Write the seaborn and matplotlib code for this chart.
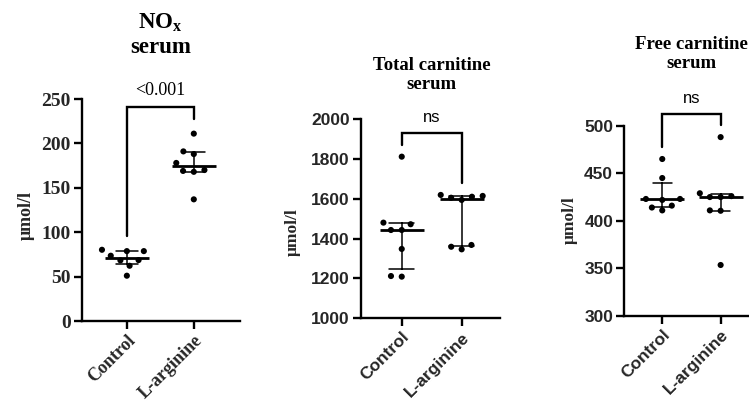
import numpy as np
import pandas as pd
import matplotlib
matplotlib.use("Agg")
import matplotlib.pyplot as plt
import seaborn as sns

# ---------------- data ----------------
groups = ["Control", "L-arginine"]

nox_control = [78.7, 78.7, 80.2, 73.5, 68.3, 68.6, 62.2, 51.0]
nox_larg = [211.0, 191.0, 188.0, 178.0, 170.0, 168.0, 169.0, 137.0]

total_control = [1811, 1472, 1480, 1443, 1443, 1348, 1209, 1212]
total_larg = [1619, 1594, 1614, 1605, 1610, 1346, 1368, 1359]

free_control = [465, 445, 423, 422, 423, 411, 416, 414]
free_larg = [488, 429, 425, 425, 426, 411, 410.6, 353.6]

titles = ["NO$_\\mathrm{x}$\nserum", "Total carnitine\nserum", "Free carnitine\nserum"]
p_labels = ["<0.001", "ns", "ns"]
y_ticks = [list(range(0, 251, 50)), list(range(1000, 2001, 200)), list(range(300, 501, 50))]
y_label = "\u03bcmol/l"

# bracket geometry (value units): left-leg bottom, top, right-leg bottom, text y
brackets = [(95.6, 240.7, 227.0, 260.0),
            (1870.0, 1931.0, 1677.0, 2008.0),
            (478.0, 512.0, 500.7, 529.0)]

# ---------------- style ----------------
sns.set_theme(style="ticks")
plt.rcParams['font.family'] = ['Liberation Serif', 'DejaVu Serif']
plt.rcParams['mathtext.fontset'] = 'custom'
plt.rcParams['mathtext.rm'] = 'Liberation Serif:bold'
plt.rcParams['mathtext.it'] = 'Liberation Serif:bold'
plt.rcParams['mathtext.bf'] = 'Liberation Serif:bold'

fig = plt.figure(figsize=(7.49, 4.05), dpi=100)

W, H = 749.0, 405.0
# axes rectangles in pixels: left, top, right, bottom
rects_px = [(82, 99, 240, 321), (361, 119, 500, 318.3), (624.3, 125.7, 758, 316)]
xlims = [(-0.67, 1.69), (-0.68, 1.64), (-0.65, 1.64)]
caps = [0.32, 0.42, 0.32]
tick_fonts = ['Liberation Serif', 'Liberation Sans', 'Liberation Sans']
tick_sizes = [14, 12.5, 12.5]
xtick_sizes = [13, 12.5, 12.5]
title_sizes = [16.5, 13.5, 13.5]
title_y = [1.29, 1.221, 1.377]
ylabel_coords = [(-0.30, 0.477), (-0.43, 0.433), (-0.346, 0.504)]
ylabel_sizes = [13, 12.5, 12.5]
p_fonts = ['Liberation Serif', 'Liberation Sans', 'Liberation Sans']
p_sizes = [13, 12, 12]

datasets = [(nox_control, nox_larg), (total_control, total_larg), (free_control, free_larg)]


def q1q3(v):
    return (np.percentile(v, 25, method='weibull'),
            np.percentile(v, 75, method='weibull'))


for i, (ctrl, larg) in enumerate(datasets):
    l, t, r, b = rects_px[i]
    ax = fig.add_axes([l / W, (H - b) / H, (r - l) / W, (b - t) / H])
    df = pd.DataFrame({
        "group": [groups[0]] * len(ctrl) + [groups[1]] * len(larg),
        "value": list(ctrl) + list(larg),
    })
    sns.pointplot(data=df, x="group", y="value", order=groups,
                  estimator="median", errorbar=q1q3, capsize=caps[i],
                  color="black", marker="_", linestyle="none",
                  markersize=32, markeredgewidth=2.0,
                  err_kws={"linewidth": 1.1}, ax=ax, zorder=3)
    sns.swarmplot(data=df, x="group", y="value", order=groups,
                  color="black", size=4.4, edgecolor="none", linewidth=3.0,
                  ax=ax, zorder=4)

    ax.set_xlim(*xlims[i])
    ax.set_ylim(y_ticks[i][0], y_ticks[i][-1])
    ax.set_yticks(y_ticks[i])
    ax.set_xlabel("")
    ax.set_ylabel(y_label, fontsize=ylabel_sizes[i], fontweight="bold",
                  family=['Liberation Serif', 'DejaVu Serif'])
    ax.yaxis.set_label_coords(*ylabel_coords[i])

    for s in ["top", "right"]:
        ax.spines[s].set_visible(False)
    for s in ["left", "bottom"]:
        ax.spines[s].set_linewidth(1.7)
        ax.spines[s].set_color("black")
    ax.tick_params(axis="both", length=6, width=1.7, color="black", direction="out")
    ax.tick_params(axis="y", labelsize=tick_sizes[i], pad=2)
    ax.tick_params(axis="x", pad=2)

    ax.set_xticks(range(len(groups)))
    ax.set_xticklabels(groups, rotation=45, ha="right", va="top",
                       rotation_mode="anchor", fontsize=xtick_sizes[i],
                       fontweight="bold", family=[tick_fonts[i], 'DejaVu Sans'])
    for lbl in ax.get_yticklabels():
        lbl.set_fontweight("bold")
        lbl.set_family([tick_fonts[i], 'DejaVu Sans'])

    # significance bracket
    lb, top, rb, ty = brackets[i]
    ax.plot([0, 0, 1, 1], [lb, top, top, rb], color="black", lw=1.7,
            clip_on=False, solid_joinstyle="miter", zorder=5)
    ax.text(0.5, ty, p_labels[i], ha="center", va="center",
            fontsize=p_sizes[i], family=[p_fonts[i], 'DejaVu Sans'],
            color="black", clip_on=False)

    # title
    ax.text(0.5, title_y[i], titles[i], transform=ax.get_xaxis_transform(),
            ha="center", va="center", fontsize=title_sizes[i],
            fontweight="bold", family=['Liberation Serif', 'DejaVu Serif'],
            linespacing=1.2, color="black")

fig.savefig("out.png", dpi=100)
